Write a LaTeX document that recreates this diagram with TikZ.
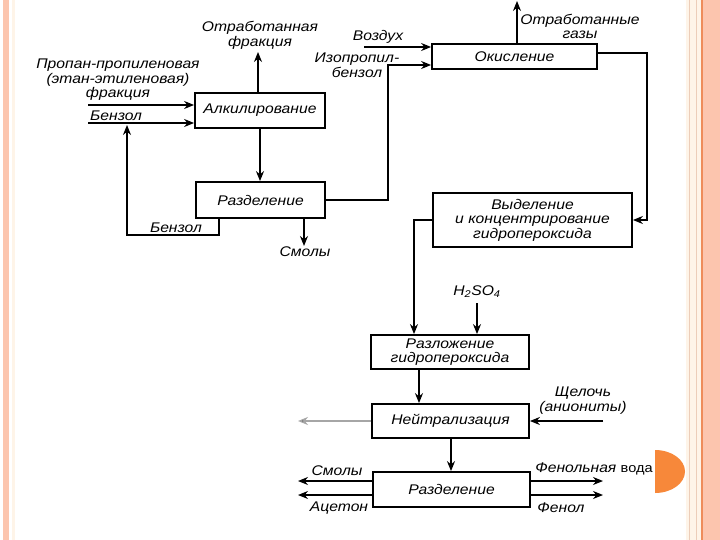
\documentclass[tikz,border=0pt]{standalone}
\usepackage{fontspec}
\setmainfont{Liberation Sans}[FakeStretch=1.12]
\usetikzlibrary{arrows.meta}
\definecolor{salmon}{RGB}{252,197,174}
\definecolor{cream}{RGB}{254,244,232}
\definecolor{tanl}{RGB}{236,205,185}
\definecolor{orng}{RGB}{238,140,90}
\definecolor{disc}{RGB}{247,136,58}
\newcommand\labfont{\itshape\fontsize{14}{14.5}\selectfont}
\begin{document}
\begin{tikzpicture}[x=1pt,y=-1pt,
  box/.style={draw, line width=1.8pt, inner sep=0pt, align=center, font=\labfont},
  lbl/.style={inner sep=0pt, align=center, font=\labfont},
  arr/.style={line width=1.3pt, -{Stealth[length=10pt,width=8pt]}}]
\useasboundingbox (0,0) rectangle (720,540);
\fill[white] (0,0) rectangle (720,540);
% slide decoration
\fill[salmon] (3,0) rectangle (9,540);
\fill[cream] (12,0) rectangle (15,540);
\fill[cream] (686,0) rectangle (701,540);
\fill[tanl] (688.5,0) rectangle (690,540);
\fill[tanl] (695.5,0) rectangle (697,540);
\fill[orng] (700.5,0) rectangle (702.5,540);
\fill[salmon] (702.5,0) rectangle (720,540);
\begin{scope}
\clip (655,440) rectangle (700,500);
\fill[disc] (655,471.5) ellipse [x radius=30, y radius=21.5];
\end{scope}
% boxes
\node[box, minimum width=130pt, minimum height=35pt] (alk) at (260,110.5) {Алкилирование};
\node[box, minimum width=129pt, minimum height=36pt] (sep1) at (260.5,200) {Разделение};
\node[box, minimum width=165pt, minimum height=25pt] (ox) at (514.5,56.5) {Окисление};
\node[box, minimum width=199pt, minimum height=54pt] (vyd) at (532.5,220) {Выделение\\и концентрирование\\гидропероксида};
\node[box, minimum width=158pt, minimum height=34pt] (razl) at (450,352) {Разложение\\гидропероксида};
\node[box, minimum width=157pt, minimum height=34pt] (neut) at (450.5,421) {Нейтрализация};
\node[box, minimum width=157pt, minimum height=35pt] (sep2) at (451.5,489.5) {Разделение};
% labels
\node[lbl] (otf) at (260,35.5) {Отработанная\\фракция};
\node[lbl] (prop) at (118,80) {Пропан-пропиленовая\\(этан-этиленовая)\\фракция};
\node[lbl, anchor=west] (bz1) at (90,116) {Бензол};
\node[lbl] (bz2) at (176,228) {Бензол};
\node[lbl] (sm1) at (305,252) {Смолы};
\node[lbl] (air) at (378,37) {Воздух};
\node[lbl] (ipb) at (357,65.5) {Изопропил-\\бензол};
\node[lbl] (gas) at (580,26.5) {Отработанные\\газы};
\node[lbl] (h2) at (477,292) {H\textsubscript{2}SO\textsubscript{4}};
\node[lbl] (alc) at (583,400.5) {Щелочь\\(аниониты)};
\node[lbl] (sm2) at (337,471) {Смолы};
\node[lbl] (ac) at (339,508) {Ацетон};
\node[lbl] (fv) at (594,469) {Фенольная {\upshape\fontsize{13}{13}\selectfont вода}};
\node[lbl] (fn) at (561,508) {Фенол};
% connectors
\coordinate (c1) at (258,52);
\draw[arr] (alk.north -| c1) -- (c1);
\draw[arr] (alk.south) -- (alk.south |- sep1.north);
\coordinate (i1) at (88,105);
\coordinate (i2) at (88,123);
\draw[arr] (i1) -- (alk.west |- i1);
\draw[arr] (i2) -- (alk.west |- i2);
\coordinate (b1) at (219,235);
\coordinate (b2) at (127,125);
\draw[arr] (sep1.south -| b1) -- (b1) -| (b2);
\coordinate (s1) at (304,246);
\draw[arr] (sep1.south -| s1) -- (s1);
\coordinate (r1) at (388,65);
\draw[arr] (sep1.east) -| (r1) -- (ox.west |- r1);
\coordinate (a1) at (364,47);
\draw[arr] (a1) -- (ox.west |- a1);
\coordinate (g1) at (517,1);
\draw[arr] (ox.north -| g1) -- (g1);
\coordinate (o1) at (647,53);
\draw[arr] (ox.east |- o1) -| (vyd.east -| o1) -- (vyd.east);
\coordinate (d1) at (414,0);
\draw[arr] (vyd.west) -| (razl.north -| d1);
\coordinate (h1) at (477,303);
\draw[arr] (h1) -- (razl.north -| h1);
\coordinate (n1) at (419,0);
\draw[arr] (razl.south -| n1) -- (neut.north -| n1);
\coordinate (w1) at (298,421);
\draw[arr, draw=gray!70, -{Stealth[length=10pt,width=8pt,fill=black!75]}] (neut.west) -- (w1);
\coordinate (e1) at (603,421);
\draw[arr] (e1) -- (neut.east);
\coordinate (n2) at (451,0);
\draw[arr] (neut.south -| n2) -- (sep2.north -| n2);
\coordinate (l1) at (298,481);
\coordinate (l2) at (298,495);
\coordinate (q1) at (603,481);
\coordinate (q2) at (603,495);
\draw[arr] (sep2.west |- l1) -- (l1);
\draw[arr] (sep2.west |- l2) -- (l2);
\draw[arr] (sep2.east |- q1) -- (q1);
\draw[arr] (sep2.east |- q2) -- (q2);
\end{tikzpicture}
\end{document}
